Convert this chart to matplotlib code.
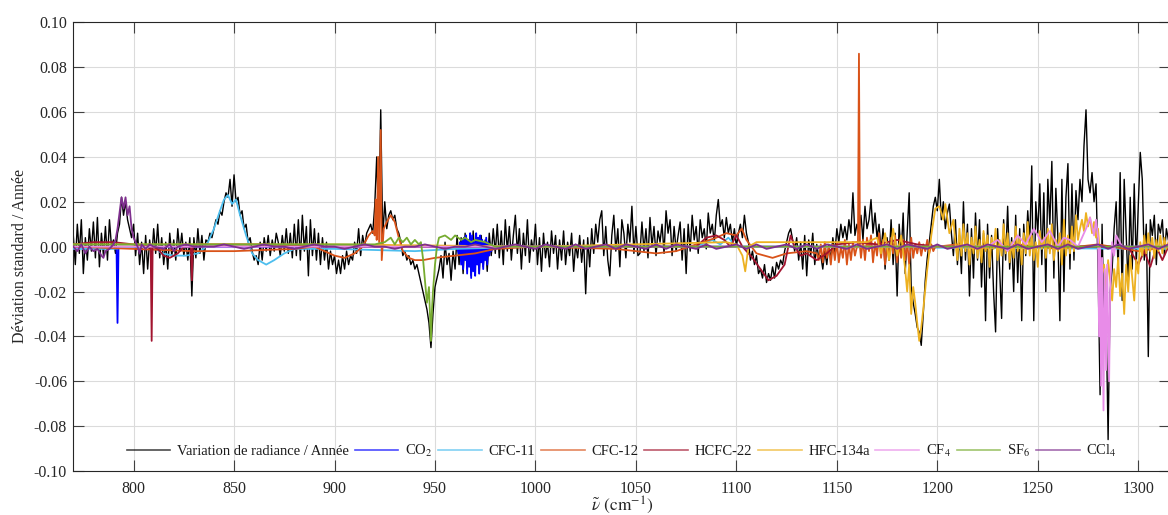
import numpy as np
import matplotlib
matplotlib.use("Agg")
import matplotlib.pyplot as plt

plt.rcParams['font.family'] = ['Liberation Serif', 'DejaVu Serif']
plt.rcParams['mathtext.fontset'] = 'stix'
plt.rcParams['axes.unicode_minus'] = False

# ---------------------------------------------------------------- data
# Wavenumber grid of the observed radiance trend (cm^-1)
nu_obs = np.arange(770, 1316)

# Observed radiance trend per year (units of 1e-3), one value per cm^-1
radiance_trend = [
    5, -8, 10, -3, 12, -12, 4, -6, 8, -2,          # 770
    11, -5, 13, -9, 6, -4, 9, -6, 12, 0,           # 780
    3, -3, 6, 10, 22, 14, 20, 12, 8, 4,            # 790
    10, -4, 6, -8, 2, -12, 5, -10, 3, -6,          # 800
    8, -3, 10, -5, 4, -8, 2, -10, 6, -4,           # 810
    3, -6, 8, -2, 6, -4, 2, -6, 4, -22,            # 820
    4, -5, 8, -3, 5, -6, 3, 2, 6, 4,               # 830
    8, 12, 10, 16, 14, 20, 24, 22, 30, 18,         # 840
    32, 20, 22, 14, 16, 8, 10, 2, 4, -2,           # 850
    -6, -4, -8, 2, -6, 4, -2, 5, -4, 3,            # 860
    -2, 6, 2, -4, 5, -2, 8, -3, 6, -5,             # 870
    10, -4, 12, -6, 14, -2, 9, -13, 12, -4,        # 880
    8, -6, 6, -8, 4, -6, 2, -10, -2, -8,           # 890
    -4, -12, -6, -12, -4, -10, -2, -8, -4, -6,     # 900
    2, -3, 8, -4, 5, 0, 6, 8, 10, 6,               # 910
    18, 40, 10, 61, 4, 20, 8, 14, 16, 12,          # 920
    14, 8, 6, 2, -4, -2, -6, -4, -8, -6,           # 930
    -10, -8, -12, -16, -20, -24, -28, -34, -45, -30,  # 940
    -18, -14, -10, -4, -14, 2, -8, -3, -15, -2,    # 950
    -10, 5, -8, 4, -12, 6, -10, 3, -13, 7,         # 960
    -6, 2, -12, 5, -9, 3, -11, 6, -4, 8,           # 970
    -3, 10, -5, 7, -8, 12, -2, 9, -6, 5,           # 980
    14, -3, 8, -10, 6, -4, 12, -7, 3, -2,          # 990
    10, -8, 4, -11, 6, -5, 2, -9, 7, -3,           # 1000
    5, -10, 3, -6, 7, -8, 2, -4, 6, -11,           # 1010
    1, -5, 5, -7, 3, -21, 4, -9, 8, -3,            # 1020
    10, 2, 12, 16, -4, 9, -6, -13, 5, 14,          # 1030
    -2, 8, -9, 12, 6, -5, 10, 2, 18, -3,           # 1040
    9, -4, -3, 11, -2, 8, -5, 13, 0, 9,            # 1050
    -4, 7, 2, 10, -3, 16, 6, 12, -4, 9,            # 1060
    -2, 5, 11, -6, 8, -12, 10, -2, 14, 3,          # 1070
    9, -3, 12, 4, 8, -1, 15, 6, 10, 2,             # 1080
    14, 21, 9, 12, 4, 13, 6, 10, 2, 8,             # 1090
    0, 6, 10, 4, 14, 6, 2, -6, -2, -8,             # 1100
    -4, -12, -10, -14, -8, -16, -12, -15, -9, -14,  # 1110
    -7, -10, -6, -8, -2, 2, 6, 8, 3, -2,           # 1120
    4, -6, 2, -10, 5, -13, 3, -4, 6, -8,           # 1130
    1, -5, -4, -10, -2, -8, 1, -6, 4, -3,          # 1140
    8, 2, 10, 4, 9, 3, 12, 6, 24, 5,               # 1150
    10, 6, 14, 3, 18, 8, 12, 21, 6, 15,            # 1160
    4, 10, -2, 8, -10, 4, -6, 12, -8, 6,           # 1170
    -22, 10, -4, 15, -12, 6, 24, -18, -25, -30,    # 1180
    -36, -38, -44, -30, -15, -5, 2, 10, 18, 22,    # 1190
    16, 30, 12, 20, 8, 15, 19, 6, -4, 12,          # 1200
    -8, 5, -12, 20, -6, 10, -22, 8, -14, 15,       # 1210
    -6, 12, -18, 6, -33, 10, -14, 5, -20, -38,     # 1220
    8, -10, -32, 12, -6, 18, -10, 4, -20, 14,      # 1230
    -16, 8, -33, 10, -4, 16, 2, 36, -33, 20,       # 1240
    6, 28, -8, 24, -20, 30, 10, 38, -14, 26,       # 1250
    4, -33, 30, -20, 22, 37, -10, 28, -6, 25,      # 1260
    12, 30, 20, 45, 61, 30, 24, 33, 20, 28,        # 1270
    -10, -66, 10, -40, -30, -86, -20, -10, 8, 20,  # 1280
    -12, 33, -24, 30, 5, -18, 22, -10, 28, -8,     # 1290
    18, 42, 30, -6, 10, -49, 12, 5, 14, -8,        # 1300
    10, 6, 12, -4, 8, 3,                           # 1310
]

# Contributions of each gas (wavenumber, value in 1e-3)
co2_nu = [770, 791.5, 792, 792.5, 961, 962, 962.5, 963, 963.5, 964, 964.5,
          965, 965.5, 966, 966.5, 967, 967.5, 968, 968.5, 969, 969.5, 970,
          970.5, 971, 971.5, 972, 972.5, 973, 973.5, 974, 974.5, 975, 975.5,
          976, 976.5, 977, 977.5, 978, 979, 1315]
co2_val = [0, 0, -34, 0, 0, -4, 2, -8, 3, -10, 4,
           -6, 5, -12, 3, -9, 6, -14, 5, -11, 2, -13,
           6, -8, 4, -12, 5, -7, 3, -10, 2, -6, 4,
           -8, 2, -4, 1, -2, 0, 0]

cfc11_nu = [770, 790, 800, 810, 814, 820, 826, 832, 836, 840, 843, 845, 847,
            849, 851, 853, 856, 859, 862, 866, 870, 875, 880, 900, 940, 960,
            1000, 1080, 1088, 1092, 1096, 1100, 1315]
cfc11_val = [-1, -1, 0, 0, -3, -4, -4, -3, 0, 8, 16, 21, 23,
             19, 21, 14, 5, -3, -6, -8, -6, -3, -1, -1, -2, -1,
             0, 0, 3, 1, 4, 0, -1]

cfc12_nu = ([770, 800, 830, 850, 880, 890, 895, 900, 905, 910, 914, 917, 919,
             920, 920.5, 921, 921.7, 922.2, 923, 923.5, 924.5, 926, 928, 930,
             932, 934, 937, 940, 944, 950, 960, 970, 980, 1000, 1040, 1050,
             1060, 1070, 1080, 1090, 1095, 1100, 1102.7, 1105, 1110, 1118,
             1125, 1135, 1140]
            + list(range(1141, 1161)) + [1160.5, 1161, 1161.5]
            + list(range(1162, 1200))
            + [1200, 1210, 1220, 1240, 1260, 1280, 1300, 1315])
cfc12_val = ([0, -1, -2, -2, -1, 0, -2, -4, -5, -3, 0, 5, 7,
              5, 21, 3, 40, 2, 52, -6, 8, 11, 14, 11,
              4, -2, -5, -6, -6, -5, -4, -3, -1, 0, -1, -2,
              -3, -2, 1, 4, 6, 5, 8, 3, -3, -5,
              -3, -2, -3]
             + [-6, 1, -7, 2, -5, 0, -8, 1, -6, 2,
                -7, 0, -5, 3, -8, 1, -6, 2, -4, 0]
             + [0, 86, 0]
             + [-5, 3, -6, 4, -2, 5, -7, 2, -4, 6,
                -5, 3, -8, 2, -6, 4, -3, 5, -7, 1,
                -5, 3, -6, 2, -8, 4, -5, 1, -3, 2,
                -4, 1, -2, 3, -3, 1, -2, 0]
             + [0, 1, -1, 1, -1, 1, -2, 0])

hcfc22_nu = [770, 780, 790, 800, 808.5, 809, 809.5, 812, 815, 818, 822, 825,
             828.5, 829, 829.5, 832, 850, 862, 900, 1000, 1080, 1085, 1090,
             1094, 1097, 1100, 1103, 1108, 1112, 1116, 1120, 1124, 1127, 1129,
             1132, 1135, 1140, 1145, 1150, 1160, 1170, 1180, 1190, 1200, 1250,
             1295, 1300, 1303, 1306, 1309, 1312, 1315]
hcfc22_val = [1, 2, 2, 1, 0, -42, 0, -1, -4, -5, -3, 0,
              0, -15, 0, 1, 1, 1, 0, 0, 0, 4, 5,
              3, 0, 5, 0, -5, -10, -15, -13, -8, 5, 0,
              -4, -3, -6, -3, 1, 2, 1, 3, 1, 0, 0,
              0, -8, -2, -9, 0, -6, 0]

hfc134a_nu = ([770, 900, 1000, 1095, 1100, 1103, 1104.4, 1106, 1110, 1140,
               1165, 1170, 1172, 1174, 1176, 1178, 1180, 1182, 1184, 1185,
               1186, 1187, 1188, 1189, 1190, 1191, 1192, 1193, 1195, 1197,
               1199, 1201, 1203, 1204, 1206, 1208]
              + list(range(1209, 1316)))
hfc134a_val = ([1, 1, 0, 2, 1, -4, -11, 0, 2, 2,
                2, 4, -3, 6, -6, 8, -4, 5, -10, -20,
                -8, -30, -18, -25, -34, -42, -36, -28, -10, 5,
                17, 18, 12, 19, 6, 12]
               + [2, -6, 8, -4, 10, -2, 6, -8, 4, -3,
                  9, -5, 3, -7, 7, -2, 5, -9, 4, -1,
                  8, -6, 3, -4, 10, -3, 6, -7, 2, -5,
                  9, -2, 4, -8, 6, -3, 11, -4, 5, -6,
                  2, -9, 7, -1, 4, -5, 8, -3, 10, -6,
                  3, -2, 6, -8, 12, -4, 5, -3, 9, -2,
                  14, 3,
                  8, 12, 7, 15, 9, 13, 6, 11, 4, 8,
                  -5, -12, -8, -20, -6, -15, -24, -10, -18, -5,
                  -22, -12, -30, -8, -20, -4, -14, -24, -6, -12,
                  2, -4, 5, -3, 6, -2, 4, -5, 3, -2,
                  5, -3, 4, -1, 2])

cf4_nu = [770, 1200, 1225, 1230, 1235, 1240, 1244, 1248, 1252, 1256, 1260,
          1263, 1266, 1270, 1274, 1276, 1278, 1279, 1280, 1280.5, 1281,
          1281.5, 1282, 1282.7, 1283.3, 1284, 1284.5, 1285.5, 1286, 1287,
          1288, 1289, 1292, 1315]
cf4_val = [0, 0, 0, 3, -2, 5, 1, 8, 2, 7, 0,
           4, 3, 0, 8, 13, 5, 12, 4, -40, 0,
           -62, -5, -73, -10, -55, -8, -60, -20, 2,
           -4, 5, 0, 0]

sf6_nu = [770, 920, 925, 928, 930, 932, 934, 936, 938, 940, 942, 943, 944,
          945, 946, 947, 947.5, 948, 948.5, 949, 950, 951, 952, 955, 958,
          960, 963, 965, 968, 970, 975, 980, 1315]
sf6_val = [1, 1, 2, 4, 1, 4, 2, 4, 1, 3, 1, 2, -5,
           -15, -25, -18, -30, -42, -28, -20, -8, 0, 4, 5, 3,
           5, 3, 4, 2, 3, 2, 0, 0]

ccl4_nu = ([770, 772, 774, 776, 778, 780, 782, 784, 785, 786, 788, 790, 791,
            792, 793, 794, 795, 796, 797, 798, 799, 800, 801, 802, 803, 804,
            806, 808, 810, 815, 818, 820, 822, 826, 830]
           + list(range(840, 1316, 5)))
ccl4_val = ([0, -2, 1, -3, 0, -2, -1, -4, -5, -2, -1, 1, 3,
             8, 15, 22, 17, 22, 14, 18, 8, 4, 2, 0, -3, 1,
             -1, 1, 0, -1, 1, -2, 0, 1, 0]
            + [0, 1, 0, -1, 0, 1, 0, 0, -1, 0,
               1, 0, 0, -1, 0, 1, 0, 0, -1, 0,
               0, 1, 0, -1, 0, 0, 1, 0, -1, 0,
               1, 0, -1, 1, 0, -1, 1, -1, 0, 1,
               -1, 1, 0, -1, 1, -1, 1, 0, -1, 1,
               -1, 0, 1, -1, 1, -1, 0, 1, -1, 1,
               -1, 1, 0, -1, 1, -1, 0, 1, -1, 1,
               0, -1, 1, -1, 0, 1, -1, 1, 0, -1,
               1, -1, 0, 1, -1, 1, -1, 0, 1, -1,
               1, -1, 0, 1, -1, 1])

gas_labels = ['CO$_2$', 'CFC-11', 'CFC-12', 'HCFC-22', 'HFC-134a',
              'CF$_4$', 'SF$_6$', 'CCl$_4$']
gas_series = [(co2_nu, co2_val), (cfc11_nu, cfc11_val), (cfc12_nu, cfc12_val),
              (hcfc22_nu, hcfc22_val), (hfc134a_nu, hfc134a_val),
              (cf4_nu, cf4_val), (sf6_nu, sf6_val), (ccl4_nu, ccl4_val)]
gas_colors = [(0.0, 0.0, 1.0), (0.30, 0.745, 0.933), (0.85, 0.325, 0.098),
              (0.635, 0.078, 0.184), (0.929, 0.694, 0.125),
              (0.91, 0.55, 0.91), (0.466, 0.674, 0.188),
              (0.494, 0.184, 0.556)]

# ---------------------------------------------------------------- figure
fig = plt.figure(figsize=(11.68, 5.15), dpi=100)
ax = fig.add_axes([73.3 / 1168, 44 / 515, 1097.1 / 1168, 448.7 / 515])

ax.plot(nu_obs, np.array(radiance_trend) * 1e-3, color='k', lw=1.0,
        label='Variation de radiance / Année', zorder=2)
for (gnu, gval), lab, col in zip(gas_series, gas_labels, gas_colors):
    ax.plot(gnu, np.array(gval) * 1e-3, color=col, lw=1.3, label=lab, zorder=3)

ax.set_xlim(770, 1316)
ax.set_ylim(-0.1, 0.1)
ax.set_xticks(np.arange(800, 1301, 50))
ax.set_yticks(np.arange(-0.1, 0.1001, 0.02))
ax.yaxis.set_major_formatter(plt.FuncFormatter(lambda v, p: f"{v:.2f}"))

ax.grid(True, color=(0.86, 0.86, 0.86), lw=0.8)
ax.set_axisbelow(True)
ax.tick_params(axis='both', which='major', direction='in', length=8,
               width=0.8, top=True, right=True, color=(0.25, 0.25, 0.25),
               labelcolor=(0.15, 0.15, 0.15), labelsize=11.5)
ax.tick_params(axis='x', pad=7)
ax.tick_params(axis='y', pad=4.5)
for sp in ax.spines.values():
    sp.set_color((0.15, 0.15, 0.15))
    sp.set_linewidth(0.8)

ax.set_xlabel(r'$\tilde{\nu}$ $(\mathrm{cm}^{-1})$', fontsize=12.5,
              color=(0.15, 0.15, 0.15), va='center')
ax.xaxis.set_label_coords(0.5, -0.0775)
ax.set_ylabel('Déviation standard / Année', fontsize=11.5,
              color=(0.15, 0.15, 0.15), va='center')
ax.yaxis.set_label_coords(-0.0486, 0.48)

leg = ax.legend(loc='center', bbox_to_anchor=(0.5, 0.0446), ncol=9,
                frameon=False, fontsize=10.5, handlelength=3.0,
                handletextpad=0.45, columnspacing=0.4)
for line in leg.get_lines():
    line.set_alpha(0.7)
    line.set_linewidth(1.2)
for t in leg.get_texts():
    t.set_color((0.1, 0.1, 0.1))

fig.savefig('out.png', dpi=100)
